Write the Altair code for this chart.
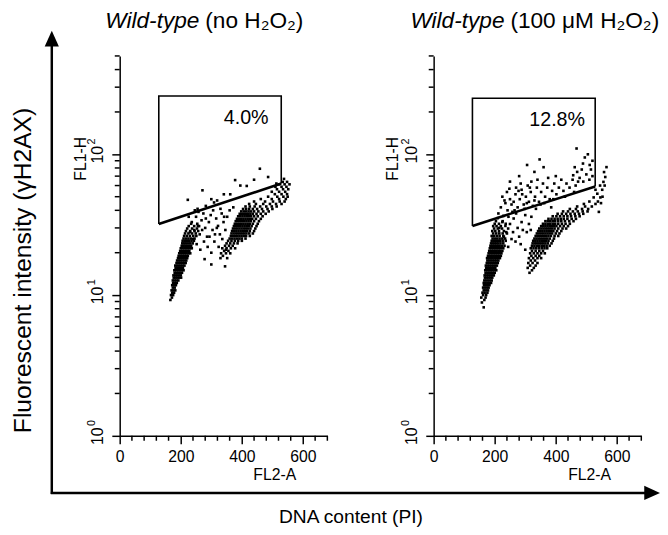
import altair as alt
import pandas as pd

FONT = "Liberation Sans"

# ---------------- axes ----------------
X_DOMAIN = [0, 680]
Y_DOMAIN = [1, 500]
X_MAJOR = [0, 200, 400, 600]
X_MINOR = [40, 80, 120, 160, 240, 280, 320, 360, 440, 480, 520, 560, 640, 680]
Y_MAJOR = [1, 10, 100]
Y_EXP = ["0", "1", "2"]
Y_MINOR = [2, 3, 4, 5, 6, 7, 8, 9, 20, 30, 40, 50, 60, 70, 80, 90, 200, 300, 400, 500]

# ---------------- left panel (no H2O2) ----------------
LEFT_GATE_X = [128, 128, 529, 529]
LEFT_GATE_Y = [32, 260, 260, 62]
LEFT_PCT = "4.0%"

# rows of events: (FL1-H value, [FL2-A values])
LEFT_G1 = [
    (9.23, [166]), (9.60, [171]), (10.0, [168, 175]), (10.4, [172, 178]),
    (10.8, [170, 176, 182]), (11.3, [174, 180]), (11.75, [172, 178, 184]),
    (12.2, [175, 181, 187]), (12.7, [174, 180, 186, 192]),
    (13.3, [177, 183, 189, 195, 201]), (13.8, [176, 182, 188, 194, 200]),
    (14.4, [180, 186, 192, 198, 204]), (15.0, [179, 185, 191, 197, 203, 209]),
    (15.6, [183, 189, 195, 201, 207]), (16.2, [182, 188, 194, 200, 206, 212]),
    (16.9, [186, 192, 198, 204, 210, 216]), (17.6, [188, 194, 200, 206, 212, 218]),
    (18.3, [191, 197, 203, 209, 215, 221]), (19.0, [193, 199, 205, 211, 217, 223]),
    (19.8, [195, 201, 207, 213, 219, 225, 231]), (20.6, [198, 204, 210, 216, 222, 228]),
    (21.5, [200, 206, 212, 218, 224, 230, 236]), (22.4, [203, 209, 215, 221, 227, 234]),
    (23.3, [205, 211, 217, 224, 231, 239]), (24.3, [206, 213, 220, 227, 235, 243]),
    (25.2, [209, 217, 225, 233, 245]), (26.3, [211, 220, 230, 241, 251]),
    (27.4, [214, 225, 237, 249]), (28.5, [217, 231, 245, 257]),
    (29.7, [221, 237, 253]), (30.9, [226, 244, 260]), (32.1, [234, 254]),
]
LEFT_G2 = [
    (18.3, [330, 352]), (19.0, [338]), (19.8, [332, 348, 362]), (20.6, [342, 356]),
    (21.5, [336, 350, 364, 378]), (22.4, [345, 358, 370]), (23.3, [350, 362, 374, 386]),
    (24.3, [355, 366, 377, 388, 400]),
    (25.2, [360, 368, 376, 384, 392, 400, 412]),
    (26.3, [364, 371, 378, 385, 392, 399, 406, 414, 426]),
    (27.4, [366, 373, 380, 387, 394, 401, 408, 415, 424, 436]),
    (28.5, [368, 375, 382, 389, 396, 403, 410, 417, 426, 440]),
    (29.7, [371, 378, 385, 392, 399, 406, 413, 420, 428, 444]),
    (30.9, [374, 381, 388, 395, 402, 409, 416, 423, 432, 448]),
    (32.1, [377, 384, 391, 398, 405, 412, 419, 426, 436, 452]),
    (33.5, [380, 387, 394, 401, 408, 415, 422, 429, 440, 456]),
    (34.8, [384, 391, 398, 405, 412, 419, 426, 434, 446, 462]),
    (36.3, [388, 395, 402, 409, 416, 423, 430, 440, 452, 468]),
    (37.8, [393, 400, 407, 414, 421, 428, 436, 448, 462, 478]),
    (39.3, [398, 406, 414, 422, 430, 440, 454, 470, 488]),
    (40.9, [404, 414, 424, 436, 450, 466, 484, 500]),
    (42.6, [412, 426, 442, 460, 480, 498, 514]),
    (44.4, [424, 446, 470, 492, 512, 530]),
    (46.2, [440, 476, 502, 524, 540]),
    (48.1, [462, 498, 522, 544]),
    (50.0, [486, 516, 536, 550]),
    (52.1, [508, 530, 548]), (54.2, [498, 522, 542]),
    (56.5, [515, 535, 552]), (58.8, [510, 530, 546]), (61.2, [522, 540, 556]),
    (63.7, [534, 548]), (66.9, [538]),
]
# scattered events (FL2-A, FL1-H)
LEFT_S = [
    (236, 33), (244, 29), (250, 36), (256, 31), (262, 27), (268, 34), (274, 38), (280, 30),
    (286, 26), (292, 33), (298, 37), (304, 29), (310, 24), (316, 35), (322, 31), (328, 27),
    (334, 38), (340, 33), (346, 29), (352, 36), (240, 25), (252, 23), (264, 21), (276, 24),
    (288, 22), (300, 20), (312, 27), (324, 22), (336, 25), (348, 21), (258, 39), (282, 35),
    (306, 40), (330, 41), (246, 40), (270, 29), (294, 26), (318, 30), (342, 36), (360, 40),
    (230, 28), (226, 36), (372, 42), (278, 18), (300, 16.5), (345, 16),
]
LEFT_GATED = [
    (223, 47.5), (271, 55.5), (378, 65.6), (459, 79), (416, 59.6), (341, 52), (362, 52),
    (486, 69), (513, 62), (309, 45.5), (319, 47), (255, 41), (282, 43), (300, 48),
    (440, 66), (395, 60),
]

# ---------------- right panel (100 uM H2O2) ----------------
RIGHT_GATE_X = [127, 127, 529, 529]
RIGHT_GATE_Y = [31, 250, 250, 59]
RIGHT_PCT = "12.8%"

RIGHT_G1 = [
    (8.18, [164]), (8.86, [158]), (9.23, [166]), (9.60, [156, 170]), (10.0, [162, 172]),
    (10.4, [160, 167, 176]), (10.8, [164, 171, 178]), (11.3, [162, 168, 174, 180]),
    (11.75, [165, 171, 177, 183]), (12.2, [164, 170, 176, 182, 188]),
    (12.7, [166, 172, 178, 184, 190]), (13.3, [168, 174, 180, 186, 192]),
    (13.8, [167, 173, 179, 185, 191, 197]), (14.4, [170, 176, 182, 188, 194, 200]),
    (15.0, [169, 175, 181, 187, 193, 199, 205]), (15.6, [172, 178, 184, 190, 196, 202]),
    (16.2, [171, 177, 183, 189, 195, 201, 207]), (16.9, [174, 180, 186, 192, 198, 204, 210]),
    (17.6, [176, 182, 188, 194, 200, 206, 212]),
    (18.3, [175, 181, 187, 193, 199, 205, 211, 217]),
    (19.0, [178, 184, 190, 196, 202, 208, 214, 220]),
    (19.8, [180, 186, 192, 198, 204, 210, 216, 222]),
    (20.6, [182, 188, 194, 200, 206, 212, 218, 225]),
    (21.5, [184, 190, 196, 202, 208, 214, 220, 228]),
    (22.4, [186, 192, 198, 204, 210, 216, 223, 232]),
    (23.3, [188, 194, 200, 206, 212, 219, 228]), (24.3, [190, 197, 204, 211, 218, 226, 236]),
    (25.2, [193, 200, 208, 216, 225, 234]), (26.3, [190, 198, 207, 216, 228]),
    (27.4, [195, 205, 215, 226, 240]), (28.5, [192, 202, 214, 230]),
    (29.7, [198, 210, 224, 244]), (30.9, [195, 206, 220]), (32.1, [200, 214, 236]),
    (33.5, [204, 226]), (35.2, [210]),
]
RIGHT_G2 = [
    (14.4, [314]), (15.0, [322]), (15.6, [308, 328]), (16.2, [316, 334]),
    (16.9, [310, 324, 340]), (17.6, [318, 332]), (18.3, [312, 326, 340, 352]),
    (19.0, [320, 334, 346]), (19.8, [316, 328, 340, 352, 364]), (20.6, [322, 334, 346, 358]),
    (21.5, [318, 327, 336, 345, 354, 363, 372]), (22.4, [322, 330, 338, 346, 354, 362, 370, 380]),
    (23.3, [324, 331, 338, 345, 352, 359, 366, 374, 386]),
    (24.3, [326, 333, 340, 347, 354, 361, 368, 376, 390]),
    (25.2, [330, 337, 344, 351, 358, 365, 372, 380, 394]),
    (26.3, [334, 341, 348, 355, 362, 369, 376, 384, 396, 408]),
    (27.4, [338, 345, 352, 359, 366, 373, 380, 388, 400, 412]),
    (28.5, [342, 349, 356, 363, 370, 377, 384, 392, 404, 418]),
    (29.7, [346, 353, 360, 367, 374, 381, 388, 396, 408, 422, 434]),
    (30.9, [352, 359, 366, 373, 380, 387, 394, 402, 414, 426, 440]),
    (32.1, [358, 366, 374, 382, 390, 398, 408, 420, 432, 446]),
    (33.5, [366, 374, 382, 390, 398, 408, 418, 430, 444, 458]),
    (34.8, [376, 386, 396, 406, 416, 426, 438, 452, 466]),
    (36.3, [390, 402, 414, 426, 438, 450, 464, 478]),
    (37.8, [406, 420, 434, 448, 462, 476, 490]), (39.3, [424, 440, 456, 472, 488, 504]),
    (40.9, [446, 466, 486, 506]), (42.6, [470, 496, 518]), (44.4, [492, 530]),
    (46.2, [510, 538]), (49.4, [524, 546]), (52.5, [536]), (56.0, [530, 552]),
    (60.0, [545, 560]), (63.7, [556]), (69.0, [562]), (74.8, [558]), (81.1, [566]),
]
RIGHT_S = [
    (215, 30), (225, 33), (238, 28), (250, 32), (262, 35), (275, 30), (288, 33), (300, 37),
    (312, 32), (230, 26), (255, 25), (280, 26), (305, 28), (320, 36), (245, 36), (270, 38),
    (292, 29), (318, 29), (235, 31), (260, 28), (285, 23), (300, 21), (244, 22), (268, 24),
    (541, 39), (553, 50), (548, 45),
]
RIGHT_GATED = [
    (212, 38), (220, 42), (228, 36.5), (235, 45), (242, 40), (250, 48), (258, 39), (225, 50),
    (240, 54), (255, 44), (262, 46), (268, 52), (275, 42), (282, 48), (288, 56), (295, 44),
    (302, 50), (308, 60), (270, 58), (285, 62), (298, 41), (290, 52), (312, 46), (318, 54),
    (325, 43), (332, 50), (338, 58), (345, 46), (352, 54), (358, 62), (320, 64), (340, 66),
    (350, 44), (330, 47), (365, 50), (372, 58), (380, 48), (388, 55), (395, 62), (402, 52),
    (410, 58), (418, 66), (375, 68), (400, 70), (425, 55), (435, 62), (445, 58), (455, 66),
    (465, 60), (478, 68), (490, 64), (500, 72), (470, 75), (485, 78), (232, 47), (248, 57),
    (265, 40), (278, 55), (305, 45), (315, 58), (335, 41), (362, 45), (385, 42), (392, 48),
    (430, 50), (460, 54), (510, 66), (520, 70), (515, 78),
    (306, 84), (360, 81), (347, 92), (462, 81), (489, 86), (511, 84), (457, 71), (473, 64),
    (468, 110), (495, 95), (520, 90), (505, 100), (280, 70), (330, 75), (250, 64),
]


def events(row_sets, pair_sets):
    xs, ys = [], []
    for rows in row_sets:
        for y, xl in rows:
            for x in xl:
                xs.append(x)
                ys.append(y)
    for pairs in pair_sets:
        for x, y in pairs:
            xs.append(x)
            ys.append(y)
    return pd.DataFrame({"x": xs, "y": ys})


def one(v="."):
    return pd.DataFrame({"t": [v]})


def txt(s, x, y, size, **kw):
    kw.setdefault("font", FONT)
    return alt.Chart(one(s)).mark_text(fontSize=size, color="black", **kw).encode(
        text="t:N", x=alt.value(x), y=alt.value(y))


def head(shape, x, y):
    return alt.Chart(one()).mark_point(shape=shape, size=256, filled=True, color="black",
                                       opacity=1, strokeWidth=0).encode(x=alt.value(x), y=alt.value(y))


def panel(df, gx, gy, pct, pct_xy, title_it, title_rest, split_x, fl1_x, fl2_x, extra):
    xscale = alt.Scale(domain=X_DOMAIN, nice=False, zero=False)
    yscale = alt.Scale(type="log", domain=Y_DOMAIN, nice=False)
    common = dict(tickSize=8, tickWidth=1.5, domainWidth=1.5, domainColor="black",
                  tickColor="black", labelColor="black", titleColor="black", grid=False,
                  labelFont=FONT, titleFont=FONT, labelFontSize=16, titleFontSize=16,
                  titleFontWeight="normal", labelOverlap=False)
    xaxis = alt.Axis(values=X_MAJOR, format="d", title="FL2-A", titleX=fl2_x, titleY=44,
                     titleAlign="center", titleBaseline="alphabetic", labelPadding=5,
                     labelFlush=False, **common)
    yaxis = alt.Axis(values=Y_MAJOR, labelExpr="'10'",
                     labelAngle=270, labelAlign="center", labelBaseline="alphabetic",
                     labelPadding=9, labelFlush=False,
                     title="FL1-H", titleAngle=270, titleX=fl1_x, titleY=104,
                     titleAlign="center", titleBaseline="middle", **common)

    def X():
        return alt.X("x:Q", scale=xscale, axis=xaxis)

    def Y():
        return alt.Y("y:Q", scale=yscale, axis=yaxis)

    pts = alt.Chart(df).mark_square(size=7, color="black", opacity=1, strokeWidth=0).encode(x=X(), y=Y())
    box = alt.Chart(pd.DataFrame({"x": gx, "y": gy, "o": [0, 1, 2, 3]})).mark_line(
        color="black", strokeWidth=1.6).encode(x=X(), y=Y(), order="o:Q")
    diag = alt.Chart(pd.DataFrame({"x": [gx[0], gx[3]], "y": [gy[0], gy[3]], "o": [0, 1]})).mark_line(
        color="black", strokeWidth=2.6).encode(x=X(), y=Y(), order="o:Q")
    xminor = alt.Chart(pd.DataFrame({"x": X_MINOR})).mark_rule(color="black", strokeWidth=1.5).encode(
        x=X(), y=alt.value(386), y2=alt.value(391))
    yminor = alt.Chart(pd.DataFrame({"y": Y_MINOR})).mark_rule(color="black", strokeWidth=1.5).encode(
        y=Y(), x=alt.value(0), x2=alt.value(-5))
    # exponents of the decade labels (10^0, 10^1, 10^2)
    sup = alt.Chart(pd.DataFrame({"y": Y_MAJOR, "e": Y_EXP})).mark_text(
        font=FONT, fontSize=11, color="black", angle=270, align="left", baseline="alphabetic",
        dx=10, dy=-8).encode(y=Y(), x=alt.value(-17), text="e:N")
    pct_t = txt(pct, pct_xy[0], pct_xy[1], 20, align="center", baseline="middle")
    t1 = txt(title_it, split_x, -28.5, 23, align="right", baseline="alphabetic", fontStyle="italic")
    t2 = txt(title_rest, split_x + 6, -28.5, 23, align="left", baseline="alphabetic")
    layers = [pts, box, diag, xminor, yminor, sup, pct_t, t1, t2] + extra
    return alt.layer(*layers).properties(width=211, height=386)


# upward head drawn above its anchor point (anchor sits just inside the plot's top edge)
UP = "M0,-3.8125L0.9,-1.8125L-0.9,-1.8125Z"
RIGHTWARD = "M1,0L-1,-0.9L-1,0.9Z"

# outer arrows and labels (pixel placement relative to left plot area)
outer = [
    alt.Chart(one()).mark_rule(color="black", strokeWidth=2.5).encode(
        x=alt.value(-69), y=alt.value(445), y2=alt.value(-10)),
    head(UP, -69, 5),
    alt.Chart(one()).mark_rule(color="black", strokeWidth=2.5).encode(
        x=alt.value(-70), x2=alt.value(536), y=alt.value(444)),
    head(RIGHTWARD, 541, 444),
    txt("Fluorescent intensity (\u03b3H2AX)", -98, 218, 25, angle=270, align="center", baseline="middle"),
    txt("DNA content (PI)", 235, 469, 19.5, align="center", baseline="middle"),
    alt.Chart(one()).mark_point(size=1, opacity=0).encode(x=alt.value(-130), y=alt.value(-60)),
]

left = panel(events([LEFT_G1, LEFT_G2], [LEFT_S, LEFT_GATED]), LEFT_GATE_X, LEFT_GATE_Y,
             LEFT_PCT, (128.5, 63), "Wild-type", "(no H\u2082O\u2082)", 81, -40, 157, outer)
right = panel(events([RIGHT_G1, RIGHT_G2], [RIGHT_S, RIGHT_GATED]), RIGHT_GATE_X, RIGHT_GATE_Y,
              RIGHT_PCT, (125.5, 64.7), "Wild-type", "(100 \u03bcM H\u2082O\u2082)", 72, -42, 158, [])

chart = alt.hconcat(left, right, spacing=108, bounds="flush",
                    padding={"left": -17.5, "top": -16.5, "right": 0, "bottom": 0}
                    ).configure_view(stroke=None)

chart.save("out.html", embed_options={"renderer": "svg", "actions": False})
